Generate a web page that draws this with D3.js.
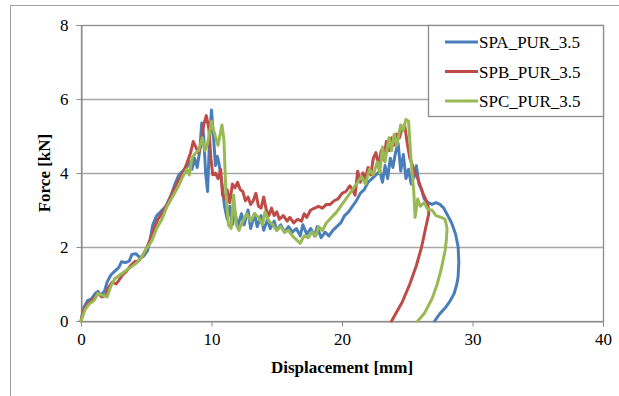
<!DOCTYPE html>
<html>
<head>
<meta charset="utf-8">
<script src="https://cdn.jsdelivr.net/npm/d3@7"></script>
<style>
  body { margin: 0; background: #fff; }
  svg text { font-family: "Liberation Serif", "Times New Roman", "DejaVu Serif", serif !important; fill: #000; }
</style>
</head>
<body>
<svg id="chart" width="619" height="396"></svg>
<script>
// ---- data ----
const seriesNames = ["SPA_PUR_3.5", "SPB_PUR_3.5", "SPC_PUR_3.5"];
const seriesColors = ["#4a7ebb", "#be4b48", "#98b954"];
const xTicks = [0, 10, 20, 30, 40];
const yTicks = [0, 2, 4, 6, 8];
const xTitle = "Displacement [mm]";
const yTitle = "Force [kN]";

const spaDisp = [0,0.2,0.5,0.8,1.1,1.3,1.5,1.8,2.0,2.3,2.6,2.9,3.1,3.4,3.7,3.9,4.2,4.5,4.8,5.1,5.3,5.5,5.8,6.1,6.5,6.9,7.2,7.5,7.8,8.1,8.3,8.5,8.7,8.9,9.1,9.25,9.4,9.55,9.7,9.85,10.0,10.15,10.3,10.45,10.6,10.8,11.0,11.2,11.4,11.6,11.8,12.0,12.3,12.5,12.8,13.0,13.3,13.5,13.8,14.0,14.3,14.5,14.8,15.0,15.3,15.6,15.9,16.2,16.5,16.8,17.0,17.3,17.6,17.9,18.1,18.4,18.7,19.0,19.3,19.6,19.9,20.2,20.5,20.8,21.1,21.4,21.7,22.0,22.3,22.6,22.9,23.1,23.3,23.5,23.7,23.9,24.1,24.3,24.5,24.7,24.9,25.1,25.3,25.5,25.7,25.9,26.1,26.3,26.6,26.9,27.2,27.5,27.8,28.1,28.4,28.7,28.9,28.95,28.9,28.8,28.6,28.3,27.9,27.5,27.1,26.5];
const spaForce = [0,0.35,0.55,0.6,0.75,0.8,0.7,0.8,1.05,1.25,1.35,1.45,1.6,1.58,1.62,1.8,1.82,1.72,1.75,1.9,2.2,2.6,2.85,2.95,3.1,3.4,3.7,3.95,4.05,4.15,4.3,4.1,4.4,4.15,4.6,5.35,5.0,4.0,3.5,4.9,5.7,5.0,4.2,4.45,4.2,3.7,3.1,2.75,3.1,2.6,2.95,2.55,2.9,2.6,3.0,2.5,2.9,2.55,2.85,2.45,2.75,2.5,2.7,2.45,2.6,2.4,2.55,2.4,2.5,2.3,2.6,2.35,2.5,2.3,2.55,2.25,2.4,2.3,2.45,2.55,2.65,2.85,2.95,3.1,3.25,3.45,3.55,3.75,3.85,3.95,4.05,3.75,4.2,3.85,4.4,4.15,4.55,4.8,4.05,4.5,3.85,4.1,3.7,3.9,4.2,3.7,3.55,3.3,3.2,3.15,3.2,3.15,3.05,2.85,2.65,2.35,2.0,1.6,1.2,1.0,0.75,0.55,0.35,0.2,0];

const spbDisp = [0,0.2,0.5,0.8,1.1,1.3,1.6,1.9,2.1,2.4,2.7,2.9,3.2,3.5,3.8,4.1,4.4,4.7,5.0,5.3,5.6,5.9,6.2,6.6,7.0,7.4,7.8,8.1,8.4,8.6,8.8,9.0,9.2,9.4,9.6,9.8,9.95,10.1,10.3,10.5,10.7,10.85,11.0,11.2,11.4,11.6,11.8,12.0,12.2,12.4,12.6,12.8,13.0,13.2,13.4,13.6,13.8,14.0,14.2,14.4,14.6,14.8,15.0,15.2,15.5,15.8,16.0,16.3,16.6,16.9,17.1,17.3,17.6,17.9,18.2,18.5,18.8,19.1,19.4,19.7,20.0,20.3,20.6,20.8,21.0,21.2,21.4,21.6,21.8,22.0,22.2,22.4,22.6,22.8,23.0,23.2,23.4,23.6,23.8,24.0,24.2,24.4,24.6,24.8,25.0,25.2,25.4,25.6,25.8,26.0,26.2,26.4,26.6,26.65,26.4,26.1,25.7,25.2,24.6,23.8];
const spbForce = [0,0.3,0.45,0.55,0.65,0.75,0.65,0.7,0.9,1.05,1.0,1.1,1.25,1.35,1.5,1.6,1.62,1.75,1.95,2.2,2.5,2.75,2.9,3.15,3.45,3.75,4.0,4.25,4.55,4.85,4.7,4.55,4.75,5.3,5.55,5.2,4.4,3.95,4.0,3.85,4.1,3.4,3.3,3.55,3.2,3.7,3.6,3.75,3.55,3.5,3.25,3.35,3.15,3.25,3.45,3.1,3.05,3.35,3.0,2.85,3.05,2.85,2.95,2.75,2.85,2.7,2.8,2.65,2.75,2.7,2.9,2.8,3.0,3.05,3.1,3.05,3.15,3.15,3.25,3.3,3.45,3.5,3.65,3.55,3.4,4.05,3.75,4.0,3.85,4.15,3.95,4.4,4.55,4.2,4.6,4.35,4.85,4.6,4.95,4.75,5.05,4.95,5.2,5.3,4.8,4.4,4.2,4.0,3.85,3.65,3.45,3.3,3.1,2.9,2.5,2.0,1.5,1.0,0.5,0];

const spcDisp = [0,0.3,0.6,1.0,1.3,1.6,2.0,2.3,2.6,3.0,3.4,3.8,4.2,4.6,5.0,5.4,5.8,6.2,6.6,7.0,7.4,7.8,8.1,8.3,8.5,8.8,9.0,9.3,9.5,9.7,10.0,10.2,10.5,10.8,10.95,11.1,11.3,11.5,11.7,11.9,12.1,12.4,12.7,13.0,13.3,13.6,13.9,14.1,14.4,14.7,15.0,15.3,15.6,15.9,16.2,16.5,16.8,17.1,17.4,17.7,18.0,18.2,18.5,18.8,19.2,19.6,20.0,20.4,20.8,21.2,21.5,21.8,22.1,22.4,22.7,22.9,23.1,23.3,23.6,23.8,24.0,24.2,24.5,24.7,24.9,25.1,25.3,25.5,25.6,25.8,26.0,26.3,26.6,26.9,27.2,27.6,27.9,28.05,28.0,27.9,27.6,27.3,26.9,26.3,25.8];
const spcForce = [0,0.3,0.45,0.55,0.75,0.7,0.65,0.95,1.15,1.25,1.35,1.45,1.55,1.7,1.95,2.15,2.5,2.75,3.1,3.35,3.6,3.9,4.1,3.95,4.4,4.55,4.6,4.95,4.6,4.8,5.4,5.1,4.75,5.3,4.9,3.5,2.6,2.5,3.4,2.6,2.45,2.7,2.9,2.7,2.9,2.8,2.6,2.95,2.7,2.6,2.45,2.55,2.4,2.45,2.3,2.2,2.1,2.3,2.25,2.4,2.3,2.55,2.45,2.65,2.8,2.95,3.15,3.35,3.55,3.75,3.9,3.7,4.1,3.95,4.3,4.0,4.7,4.3,4.95,4.6,5.05,4.75,5.3,5.15,5.45,5.4,4.3,3.5,2.8,3.3,3.1,3.2,3.0,3.0,2.85,2.8,2.75,2.5,2.2,1.9,1.4,1.0,0.6,0.2,0];

const seriesDisp = [spaDisp, spbDisp, spcDisp];
const seriesForce = [spaForce, spbForce, spcForce];

// ---- layout ----
const FONT = '"Liberation Serif", "Times New Roman", "DejaVu Serif", serif';
const svg = d3.select("#chart");
const L = 81, R = 603, T = 25, B = 321;
const x = d3.scaleLinear().domain([0, 40]).range([L, R]);
const y = d3.scaleLinear().domain([0, 8]).range([B, T]);

// outer chart-area frame
svg.append("rect").attr("x", 10.5).attr("y", 5.5).attr("width", 700).attr("height", 500)
  .attr("fill", "none").attr("stroke", "#a0a0a0").attr("stroke-width", 1);

// gridlines
svg.append("g").selectAll("line").data(yTicks.filter(d => d > 0 && d < 8)).join("line")
  .attr("x1", L).attr("x2", R)
  .attr("y1", d => Math.round(y(d)) + 0.5).attr("y2", d => Math.round(y(d)) + 0.5)
  .attr("stroke", "#a6a6a6").attr("stroke-width", 1.3);

// plot border
svg.append("rect").attr("x", L + 0.5).attr("y", T + 0.5).attr("width", R - L).attr("height", B - T)
  .attr("fill", "none").attr("stroke", "#8c8c8c").attr("stroke-width", 1.3);

// axes
const xAxis = d3.axisBottom(x).tickValues(xTicks).tickSize(5).tickPadding(6).tickFormat(d3.format("d"));
const gx = svg.append("g").attr("transform", `translate(0,${B + 0.5})`).call(xAxis)
  .attr("font-family", FONT).attr("font-size", 17);
gx.select(".domain").attr("stroke", "#8c8c8c");
gx.selectAll(".tick line").attr("stroke", "#8c8c8c");
gx.selectAll("text").style("font-family", FONT).style("font-size", "17px").attr("fill", "#000");

const yAxis = d3.axisLeft(y).tickValues(yTicks).tickSize(5).tickPadding(8).tickFormat(d3.format("d"));
const gy = svg.append("g").attr("transform", `translate(${L + 0.5},0)`).call(yAxis)
  .attr("font-family", FONT).attr("font-size", 17);
gy.select(".domain").attr("stroke", "#8c8c8c");
gy.selectAll(".tick line").attr("stroke", "#8c8c8c");
gy.selectAll("text").style("font-family", FONT).style("font-size", "17px").attr("fill", "#000");

// lines
const line = d3.line().x(d => x(d[0])).y(d => y(d[1])).curve(d3.curveLinear);
seriesNames.forEach((name, i) => {
  const pts = seriesDisp[i].map((dx, j) => [dx, seriesForce[i][j]]);
  svg.append("path").datum(pts).attr("d", line)
    .attr("fill", "none").attr("stroke", seriesColors[i]).attr("stroke-width", 3)
    .attr("stroke-linejoin", "round").attr("stroke-linecap", "round");
});

// axis titles
svg.append("text").attr("x", (L + R) / 2).attr("y", 373).attr("text-anchor", "middle")
  .style("font-family", FONT).style("font-size", "17px").style("font-weight", "bold").text(xTitle);
svg.append("text").attr("transform", "translate(50,173) rotate(-90)").attr("text-anchor", "middle")
  .style("font-family", FONT).style("font-size", "17px").style("font-weight", "bold").text(yTitle);

// legend
const lg = svg.append("g");
lg.append("rect").attr("x", 428.5).attr("y", 25.5).attr("width", 175).attr("height", 91)
  .attr("fill", "#fff").attr("stroke", "#8c8c8c").attr("stroke-width", 1.3);
seriesNames.forEach((name, i) => {
  const cy = 42 + i * 29.5;
  lg.append("line").attr("x1", 445).attr("x2", 478).attr("y1", cy).attr("y2", cy)
    .attr("stroke", seriesColors[i]).attr("stroke-width", 3);
  lg.append("text").attr("x", 479).attr("y", cy + 6)
    .style("font-family", FONT).style("font-size", "17px").text(name);
});
</script>
</body>
</html>
